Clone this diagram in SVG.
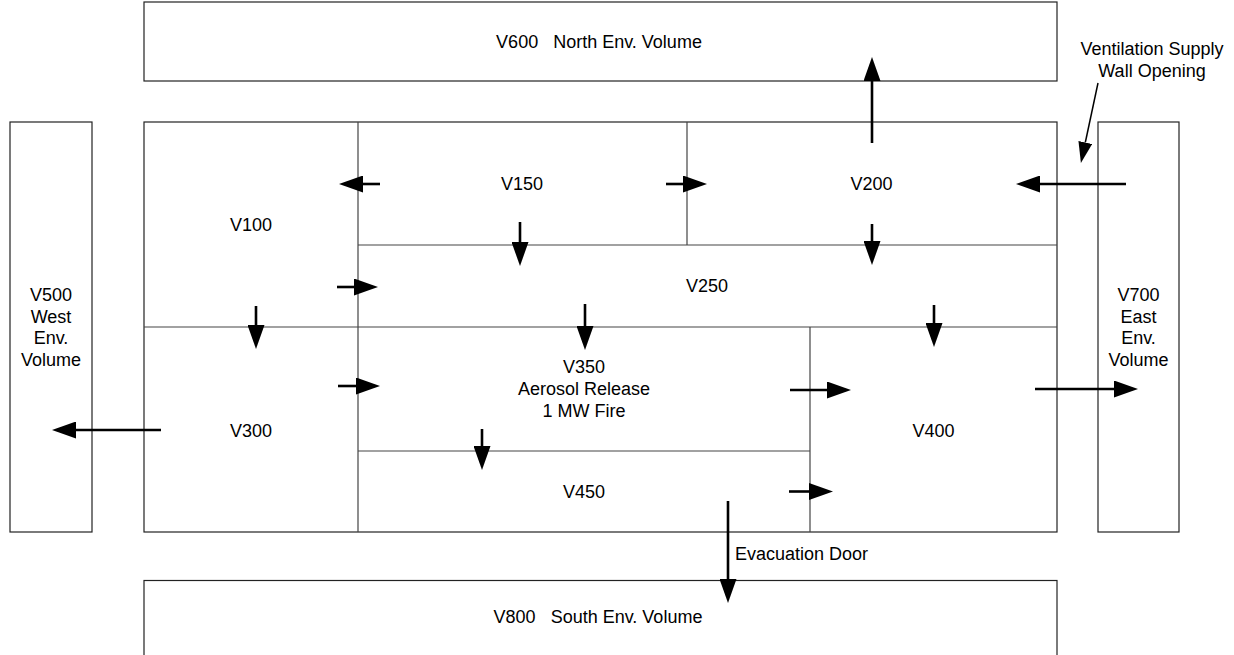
<svg xmlns="http://www.w3.org/2000/svg" width="1234" height="655" viewBox="0 0 1234 655">
<style>
.box{fill:#fff;stroke:#222;stroke-width:1.2}
.div{fill:none;stroke:#444;stroke-width:1.2}
.t{font-family:"Liberation Sans",Arial,sans-serif;font-size:18px;fill:#000;text-anchor:middle}
.tl{font-family:"Liberation Sans",Arial,sans-serif;font-size:18px;fill:#000;text-anchor:start}
.a{stroke:#000;stroke-width:2.6;fill:none;marker-end:url(#ah)}
.p{stroke:#000;stroke-width:1.5;fill:none;marker-end:url(#ahs)}
</style>
<defs>
<marker id="ah" markerUnits="userSpaceOnUse" markerWidth="24" markerHeight="17" refX="0" refY="8.5" orient="auto" viewBox="0 0 24 17">
<path d="M0,0 L24,8.5 L0,17 z" fill="#000"/>
</marker>
<marker id="ahs" markerUnits="userSpaceOnUse" markerWidth="21" markerHeight="14" refX="0" refY="7" orient="auto" viewBox="0 0 21 14">
<path d="M0,0 L21,7 L0,14 z" fill="#000"/>
</marker>
</defs>
<rect width="1234" height="655" fill="#fff"/>
<g id="V600"><rect class="box" x="144" y="2" width="913" height="79"/><text class="t" x="599" y="48" xml:space="preserve">V600   North Env. Volume</text></g>
<g id="V500"><rect class="box" x="10" y="122" width="82" height="410"/><text class="t" x="51" y="301">V500</text><text class="t" x="51" y="322.6">West</text><text class="t" x="51" y="344.2">Env.</text><text class="t" x="51" y="365.8">Volume</text></g>
<g id="V700"><rect class="box" x="1098" y="122" width="81" height="410"/><text class="t" x="1138.5" y="301">V700</text><text class="t" x="1138.5" y="322.6">East</text><text class="t" x="1138.5" y="344.2">Env.</text><text class="t" x="1138.5" y="365.8">Volume</text></g>
<g id="V800"><rect class="box" x="144" y="580.5" width="913" height="80"/><text class="t" x="598" y="623" xml:space="preserve">V800   South Env. Volume</text></g>
<g id="building"><rect class="box" x="144" y="122" width="913" height="410"/>
<line class="div" x1="358" y1="122" x2="358" y2="532"/>
<line class="div" x1="687" y1="122" x2="687" y2="245"/>
<line class="div" x1="358" y1="245" x2="1057" y2="245"/>
<line class="div" x1="144" y1="327" x2="1057" y2="327"/>
<line class="div" x1="810" y1="327" x2="810" y2="532"/>
<line class="div" x1="358" y1="451" x2="810" y2="451"/>
</g>
<g id="V100"><text class="t" x="251" y="230.5">V100</text></g>
<g id="V150"><text class="t" x="522" y="190">V150</text></g>
<g id="V200"><text class="t" x="871.5" y="190">V200</text></g>
<g id="V250"><text class="t" x="707" y="292">V250</text></g>
<g id="V300"><text class="t" x="251" y="436.5">V300</text></g>
<g id="V350"><text class="t" x="584" y="373.3">V350</text><text class="t" x="584" y="395">Aerosol Release</text><text class="t" x="584" y="416.7">1 MW Fire</text></g>
<g id="V400"><text class="t" x="933.5" y="436.5">V400</text></g>
<g id="V450"><text class="t" x="584" y="498">V450</text></g>
<g id="labels"><text class="tl" x="735" y="560">Evacuation Door</text><text class="t" x="1152" y="55">Ventilation Supply</text><text class="t" x="1152" y="76.7">Wall Opening</text></g>
<g id="connectors">
<line class="a" x1="380" y1="184" x2="363" y2="184"/>
<line class="a" x1="666" y1="184" x2="683" y2="184"/>
<line class="a" x1="1126" y1="184" x2="1040" y2="184"/>
<line class="a" x1="872" y1="143" x2="872" y2="81"/>
<line class="a" x1="520" y1="222" x2="520" y2="242"/>
<line class="a" x1="872" y1="224" x2="872" y2="241"/>
<line class="a" x1="337" y1="287" x2="354" y2="287"/>
<line class="a" x1="256" y1="306" x2="256" y2="325"/>
<line class="a" x1="585" y1="304" x2="585" y2="326"/>
<line class="a" x1="934" y1="305" x2="934" y2="323"/>
<line class="a" x1="338" y1="386" x2="356" y2="386"/>
<line class="a" x1="790" y1="390" x2="827" y2="390"/>
<line class="a" x1="1035" y1="389" x2="1114" y2="389"/>
<line class="a" x1="161" y1="430" x2="76" y2="430"/>
<line class="a" x1="482" y1="429" x2="482" y2="446"/>
<line class="a" x1="789" y1="491.5" x2="809" y2="491.5"/>
<line class="a" x1="728" y1="501" x2="728" y2="579"/>
<line class="p" x1="1098" y1="83" x2="1085.3" y2="142.5"/>
</g>
</svg>
